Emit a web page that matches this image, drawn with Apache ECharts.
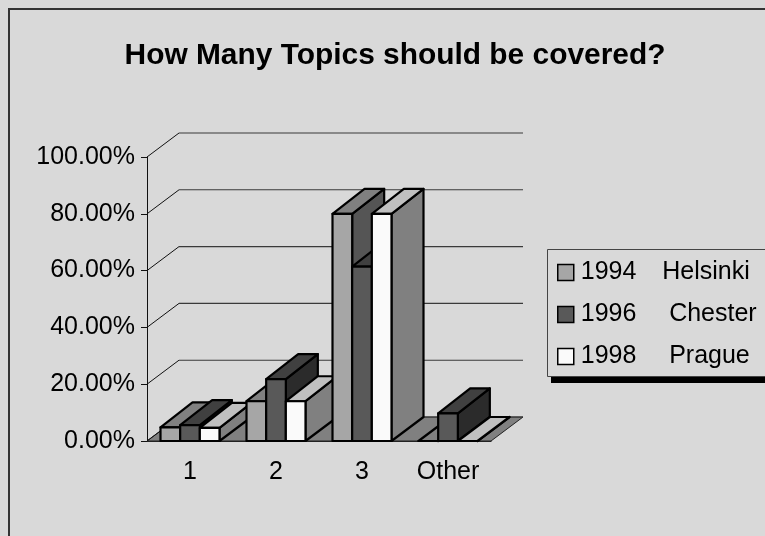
<!DOCTYPE html>
<html><head><meta charset="utf-8">
<style>html,body{margin:0;padding:0;background:#d9d9d9}#c{width:765px;height:536px}</style>
<script src="https://cdn.jsdelivr.net/npm/echarts@6/dist/echarts.min.js"></script>
</head><body><div id="c"></div>
<script>
var chartTitle = 'How Many Topics should be covered?';
var categories = ['1', '2', '3', 'Other'];
var seriesNames = ['1994   \u2009Helsinki', '1996    \u2009Chester', '1998    \u2009Prague'];
var helsinki1994 = [4.8, 14, 80, 0];
var chester1996 = [5.6, 21.8, 61.4, 9.7];
var prague1998 = [4.6, 14, 80, 0];
var yTicks = [0, 20, 40, 60, 80, 100];

var FONT = '"Liberation Sans", Arial, sans-serif';
var DX = 32, DY = 24, BAR_DY = 25, GROUP = 59 / 86;
var palette = [
  {front: '#a6a6a6', top: '#808080', side: '#555555'},
  {front: '#595959', top: '#404040', side: '#2b2b2b'},
  {front: '#fafafa', top: '#c0c0c0', side: '#808080'}
];

function poly(points, fill, z2) {
  return {type: 'polygon', shape: {points: points}, z2: z2,
    style: {fill: fill, stroke: '#000', lineWidth: 2.2, lineJoin: 'round'}};
}
function barRenderer(idx) {
  return function (params, api) {
    var cat = api.value(0), val = api.value(1);
    var band = api.size([1, 0])[0], w = band * GROUP / 3;
    var top = api.coord([cat, val]), base = api.coord([cat, 0]);
    var x0 = top[0] - band * GROUP / 2 + idx * w, x1 = x0 + w;
    var y0 = top[1], yb = base[1], c = palette[idx];
    var dyTop = val > 0 ? BAR_DY : DY;
    var z = cat * 10 + idx + 10;
    return {type: 'group', children: [
      poly([[x1, yb], [x1 + DX, yb - DY], [x1 + DX, y0 - dyTop], [x1, y0]], c.side, z),
      poly([[x0, y0], [x0 + DX, y0 - dyTop], [x1 + DX, y0 - dyTop], [x1, y0]], c.top, z),
      poly([[x0, yb], [x0, y0], [x1, y0], [x1, yb]], c.front, z)
    ]};
  };
}
function barSeries(name, values, idx) {
  return {
    type: 'custom', name: name, coordinateSystem: 'cartesian2d', clip: false,
    itemStyle: {color: palette[idx].front},
    renderItem: barRenderer(idx),
    data: values.map(function (v, i) { return [i, v]; })
  };
}
var wallSeries = {
  type: 'custom', name: 'wall', coordinateSystem: 'cartesian2d', clip: false, silent: true,
  renderItem: function (params, api) {
    var v = api.value(1);
    var band = api.size([1, 0])[0];
    var c0 = api.coord([0, v]);
    var xl = c0[0] - band / 2, xr = xl + band * categories.length, y = c0[1];
    var kids = [
      {type: 'polyline', shape: {points: [[xl, y], [xl + DX, y - DY]]}, z2: 1,
        style: {fill: null, stroke: '#111', lineWidth: 1}},
      {type: 'line', shape: {x1: xl + DX, y1: y - DY, x2: xr + DX, y2: y - DY}, z2: 1,
        style: {stroke: '#3a3a3a', lineWidth: 1.1}}
    ];
    if (v === 0) {
      kids.unshift({type: 'polygon', z2: 2,
        shape: {points: [[xl, y], [xl + DX, y - DY], [xr + DX, y - DY], [xr, y]]},
        style: {fill: '#808080', stroke: '#222', lineWidth: 1}});
      kids[1].z2 = 3; kids[2].z2 = 3;
    }
    return {type: 'group', children: kids};
  },
  data: yTicks.map(function (v) { return [0, v]; })
};

var chart = echarts.init(document.getElementById('c'), null, {renderer: 'canvas'});
chart.setOption({
  animation: false,
  backgroundColor: '#d9d9d9',
  title: {text: chartTitle, left: 390, top: 36, textAlign: 'center',
    textStyle: {fontFamily: FONT, fontWeight: 'bold', fontSize: 29.9, color: '#000'}},
  grid: {left: 147, top: 157, width: 344, height: 284},
  xAxis: {type: 'category', data: categories,
    axisLine: {lineStyle: {color: '#222', width: 1.2}}, axisTick: {show: false}, splitLine: {show: false},
    axisLabel: {fontFamily: FONT, fontSize: 25, color: '#000', margin: 19}},
  yAxis: {type: 'value', min: 0, max: 100, interval: 20,
    axisLine: {show: true, lineStyle: {color: '#111', width: 1}},
    axisTick: {show: true, length: 6, lineStyle: {color: '#111', width: 1}},
    splitLine: {show: false},
    axisLabel: {fontFamily: FONT, fontSize: 25, color: '#000', margin: 12,
      formatter: function (v) { return v.toFixed(2) + '%'; }}},
  legend: {orient: 'vertical', left: 557, top: 260, padding: 0, itemWidth: 16, itemHeight: 16,
    itemGap: 17, selectedMode: false, icon: 'rect', data: seriesNames,
    itemStyle: {borderColor: '#000', borderWidth: 1.5},
    textStyle: {fontFamily: FONT, fontSize: 25, color: '#000', padding: [0, 0, 0, 2]}},
  graphic: [
    {type: 'rect', z: 0, shape: {x: 551, y: 377, width: 214, height: 6}, style: {fill: '#000'}},
    {type: 'rect', z: 0, shape: {x: 547.5, y: 249.5, width: 220, height: 127}, style: {fill: '#d9d9d9', stroke: '#444', lineWidth: 1}},
    {type: 'rect', z: 0, shape: {x: 9, y: 9, width: 760, height: 530}, style: {fill: null, stroke: '#333', lineWidth: 2}}
  ],
  series: [wallSeries,
    barSeries(seriesNames[0], helsinki1994, 0),
    barSeries(seriesNames[1], chester1996, 1),
    barSeries(seriesNames[2], prague1998, 2)]
});
</script></body></html>
